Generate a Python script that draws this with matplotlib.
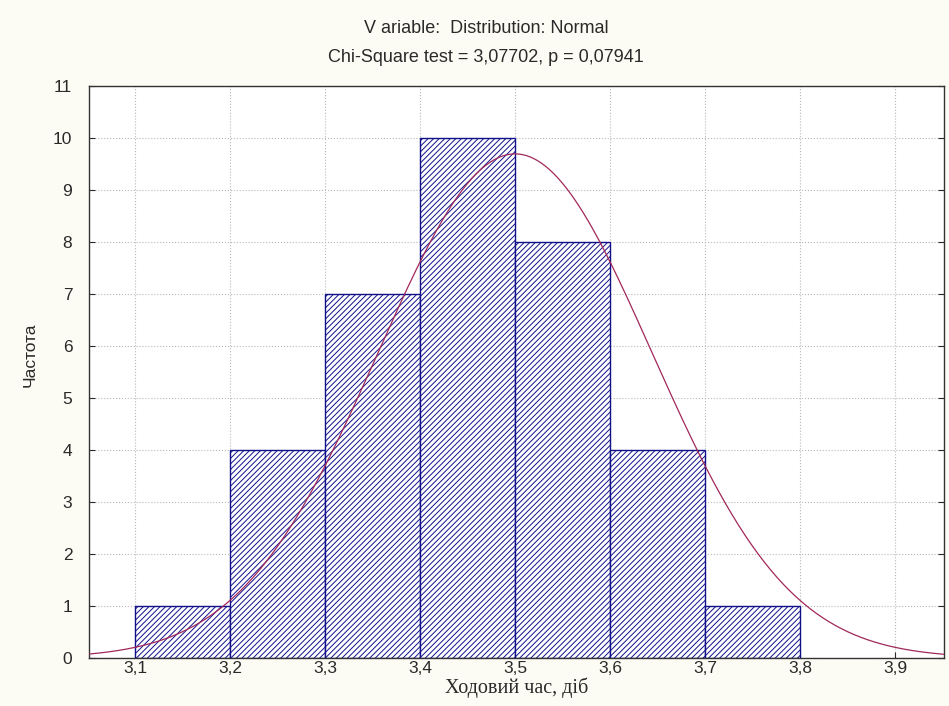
import numpy as np
import matplotlib as mpl
from matplotlib import pyplot as plt

# histogram bins (left edges) and counts
bin_left = [3.1, 3.2, 3.3, 3.4, 3.5, 3.6, 3.7]
counts = [1, 4, 7, 10, 8, 4, 1]
bin_width = 0.1

# fitted normal
mu = 3.5
sigma = 0.144
n_obs = 35

xticks = [3.1, 3.2, 3.3, 3.4, 3.5, 3.6, 3.7, 3.8, 3.9]
xtick_labels = ["3,1", "3,2", "3,3", "3,4", "3,5", "3,6", "3,7", "3,8", "3,9"]
yticks = list(range(0, 12))

title1 = "V ariable:  Distribution: Normal"
title2 = "Chi-Square test = 3,07702, p = 0,07941"

mpl.rcParams['hatch.linewidth'] = 0.7
mpl.rcParams['hatch.color'] = '#25255c'
mpl.rcParams['font.family'] = ['Liberation Sans', 'DejaVu Sans']

fig = plt.figure(figsize=(9.49, 7.06), dpi=100, facecolor='#fdfcf4')
ax = fig.add_axes([0.0938, 0.068, 0.9005, 0.81])
ax.set_facecolor('white')

ax.bar(bin_left, counts, width=bin_width, align='edge', facecolor='white',
       edgecolor='#10108a', linewidth=1.0, hatch='//////', zorder=2)

xs = np.linspace(3.05, 3.952, 400)
ys = n_obs * bin_width / (sigma * np.sqrt(2 * np.pi)) * np.exp(-0.5 * ((xs - mu) / sigma) ** 2)
ax.plot(xs, ys, color='#a0285a', linewidth=0.9, zorder=3)

ax.set_xlim(3.0516, 3.951)
ax.set_ylim(0, 11)
ax.set_xticks(xticks)
ax.set_xticklabels(xtick_labels)
ax.set_yticks(yticks)
ax.tick_params(labelsize=12.5, direction='in', length=4, top=False, right=True,
               colors='#2a2a2a')
ax.tick_params(axis='x', pad=2)
ax.tick_params(axis='y', pad=12)
ax.grid(True, color='#b8b8b8', linestyle=':', linewidth=0.8, zorder=0)
ax.set_axisbelow(True)
for s in ax.spines.values():
    s.set_color('#333333')
    s.set_linewidth(1.0)

ax.set_ylabel("Частота", fontsize=12.5, color='#2a2a2a')
ax.yaxis.set_label_coords(-0.06, 0.53)
ax.set_xlabel("Ходовий час, діб", fontsize=14.5, family=['Liberation Serif', 'DejaVu Serif'],
              labelpad=1, color='#2a2a2a')

fig.text(0.512, 0.96, title1, ha='center', va='center', fontsize=13, color='#2a2a2a')
fig.text(0.512, 0.918, title2, ha='center', va='center', fontsize=13, color='#2a2a2a')

fig.savefig("out.png", dpi=100, facecolor=fig.get_facecolor())
